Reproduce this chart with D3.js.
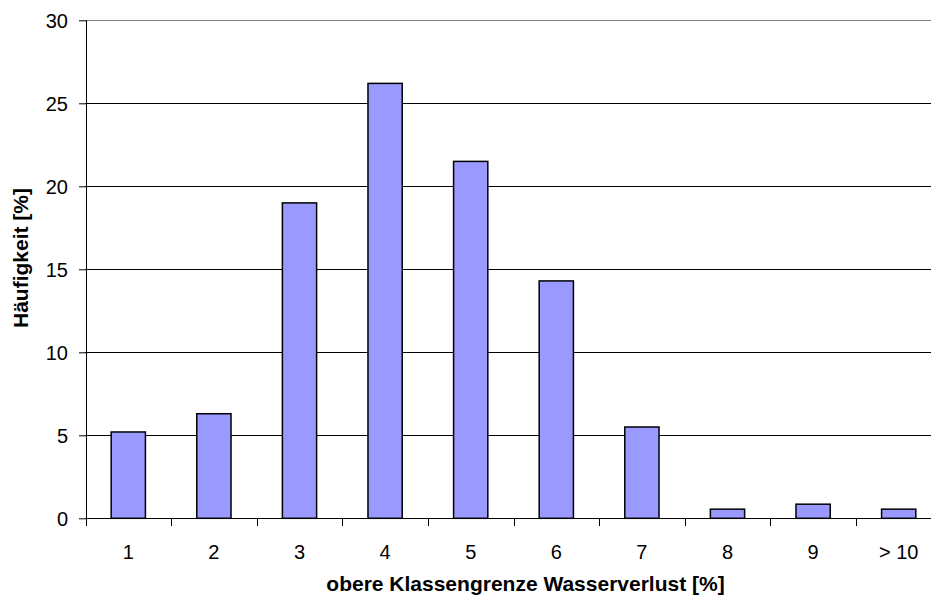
<!DOCTYPE html>
<html>
<head>
<meta charset="utf-8">
<script src="https://cdn.jsdelivr.net/npm/d3@7"></script>
<style>
  html, body { margin: 0; padding: 0; background: #fff; }
  svg { display: block; }
  text { font-family: "Liberation Sans", Arial, sans-serif; fill: #000; }
</style>
</head>
<body>
<svg id="chart" width="931" height="602"></svg>
<script>
// Upper class bound of water loss and relative frequency per class
const categories = ["1", "2", "3", "4", "5", "6", "7", "8", "9", "> 10"];
const frequency = [5.2, 6.3, 19.0, 26.2, 21.5, 14.3, 5.5, 0.55, 0.85, 0.55];
const yTicks = [0, 5, 10, 15, 20, 25, 30];

const svg = d3.select("#chart");
const margin = { left: 85.5, top: 20.3, bottom: 518.3 };
const plotRight = 941.5;

const x = d3.scaleBand()
  .domain(categories)
  .range([margin.left, plotRight])
  .paddingInner(0.6)
  .paddingOuter(0.3);

const band = d3.scaleBand().domain(categories).range([margin.left, plotRight]);

const y = d3.scaleLinear().domain([0, 30]).range([margin.bottom, margin.top]);

// horizontal gridlines
svg.append("g")
  .selectAll("line")
  .data(yTicks.filter(d => d > 0))
  .join("line")
  .attr("x1", margin.left)
  .attr("x2", plotRight)
  .attr("y1", d => Math.round(y(d)) + 0.5)
  .attr("y2", d => Math.round(y(d)) + 0.5)
  .attr("stroke", d => d === 30 ? "#808080" : "#000")
  .attr("stroke-width", 1);

// bars
svg.append("g")
  .selectAll("rect")
  .data(frequency)
  .join("rect")
  .attr("x", (d, i) => x(categories[i]))
  .attr("width", x.bandwidth())
  .attr("y", d => y(d))
  .attr("height", d => y(0) - y(d))
  .attr("fill", "#9999ff")
  .attr("stroke", "#000")
  .attr("stroke-width", 1.5);

// y axis
const yAxis = d3.axisLeft(y)
  .tickValues(yTicks)
  .tickSize(7.5)
  .tickPadding(11)
  .tickFormat(d3.format("d"));

const gy = svg.append("g")
  .attr("transform", `translate(${Math.round(margin.left) + 0.5},0)`)
  .call(yAxis);
gy.select(".domain").attr("stroke", "#000").attr("d", `M0,${y(30)}V${y(0)}`);
gy.selectAll(".tick line").attr("stroke", "#000");
gy.selectAll(".tick text")
  .attr("font-size", 20)
  .attr("dy", "0.38em")
  .attr("font-family", "Liberation Sans, Arial, sans-serif");

// x axis with ticks on category boundaries
const gx = svg.append("g")
  .attr("transform", `translate(0,${Math.round(y(0)) + 0.5})`);
gx.append("line")
  .attr("x1", margin.left)
  .attr("x2", plotRight)
  .attr("stroke", "#000");
gx.selectAll("line.tk")
  .data(categories)
  .join("line")
  .attr("class", "tk")
  .attr("x1", d => Math.round(band(d)) + 0.5)
  .attr("x2", d => Math.round(band(d)) + 0.5)
  .attr("y1", 0)
  .attr("y2", 7.5)
  .attr("stroke", "#000");
gx.selectAll("text")
  .data(categories)
  .join("text")
  .attr("x", d => band(d) + band.bandwidth() / 2)
  .attr("y", 40)
  .attr("text-anchor", "middle")
  .attr("font-size", 20)
  .text(d => d);

// axis titles
svg.append("text")
  .attr("x", 525.5)
  .attr("y", 591)
  .attr("text-anchor", "middle")
  .attr("font-size", 21)
  .attr("font-weight", "bold")
  .text("obere Klassengrenze Wasserverlust [%]");

svg.append("text")
  .attr("transform", "translate(28,258) rotate(-90)")
  .attr("text-anchor", "middle")
  .attr("font-size", 21)
  .attr("font-weight", "bold")
  .text("Häufigkeit [%]");
</script>
</body>
</html>
